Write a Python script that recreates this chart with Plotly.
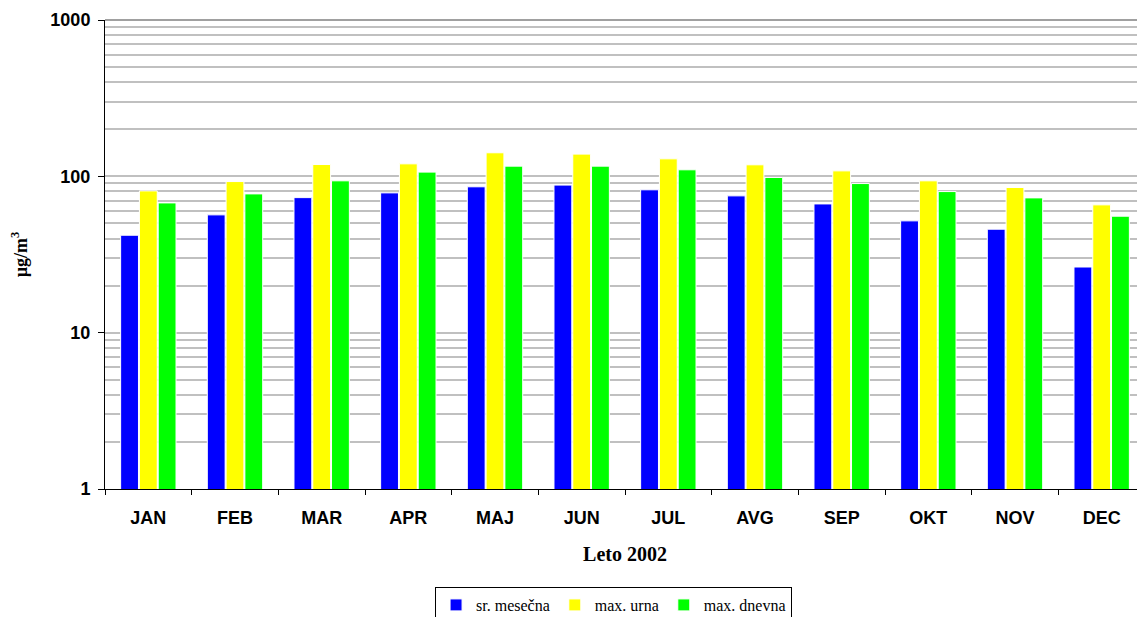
import plotly.graph_objects as go

months = ["JAN", "FEB", "MAR", "APR", "MAJ", "JUN", "JUL", "AVG", "SEP", "OKT", "NOV", "DEC"]
sr_mesecna = [42.0, 56.7, 73.1, 78.4, 85.7, 87.9, 82.0, 75.0, 66.6, 51.9, 45.9, 26.3]
max_urna = [80.7, 92.6, 119.0, 120.2, 141.5, 138.7, 129.4, 118.5, 108.4, 93.6, 84.8, 65.7]
max_dnevna = [67.6, 77.2, 93.6, 106.4, 116.2, 116.2, 110.1, 98.3, 89.9, 79.9, 72.8, 55.6]

series = [
    ("sr. mesečna", sr_mesecna, "#0000FF"),
    ("max. urna", max_urna, "#FFFF00"),
    ("max. dnevna", max_dnevna, "#00FF00"),
]

fig = go.Figure()
for name, vals, color in series:
    fig.add_trace(go.Bar(
        x=months, y=vals, name=name,
        marker=dict(color=color, line=dict(color="white", width=1)),
    ))

serif = "Liberation Serif, Times New Roman"

# the page body adds an 8px offset, so margins are trimmed to land the plot area where the reference has it
fig.update_layout(
    width=1145, height=617,
    margin=dict(l=97, r=8, t=12, b=136, autoexpand=False),
    plot_bgcolor="white", paper_bgcolor="white",
    barmode="group", bargap=0.35, bargroupgap=0.05,
    font=dict(family="Arial", color="black"),
    legend=dict(
        orientation="h", x=0.489, xanchor="center", y=-0.209, yanchor="top",
        bordercolor="black", borderwidth=1,
        font=dict(family=serif, size=16),
        itemwidth=30, tracegroupgap=0,
    ),
    showlegend=True,
)

fig.update_xaxes(
    tickson="boundaries", ticks="outside", ticklen=5, tickcolor="black",
    showline=True, linecolor="black", linewidth=1,
    tickfont=dict(family="Arial", size=18, color="black", weight="bold"),
    ticklabelstandoff=12,
    title=dict(text="<b>Leto 2002</b>", font=dict(family=serif, size=20), standoff=20),
    showgrid=False, automargin=False,
)

fig.update_yaxes(
    type="log", range=[0, 3],
    tickvals=[1, 10, 100, 1000], ticktext=["<b>1</b>", "<b>10</b>", "<b>100</b>", "<b>1000</b>"],
    ticks="outside", ticklen=6, tickcolor="black",
    showline=True, linecolor="black", linewidth=1,
    tickfont=dict(family="Arial", size=18, color="black"),
    ticklabelstandoff=4,
    showgrid=True, gridcolor="#C0C0C0", gridwidth=1.5,
    minor=dict(dtick="D1", showgrid=True, gridcolor="#C0C0C0", gridwidth=1.5, ticks=""),
    zeroline=False, automargin=False,
    title=dict(text="<b>µg/m<sup>3</sup></b>", font=dict(family=serif, size=18), standoff=25),
)

fig.add_shape(type="line", xref="paper", yref="paper", x0=0, x1=1, y0=1, y1=1,
              line=dict(color="#808080", width=1.5))

fig.write_html("out.html")
